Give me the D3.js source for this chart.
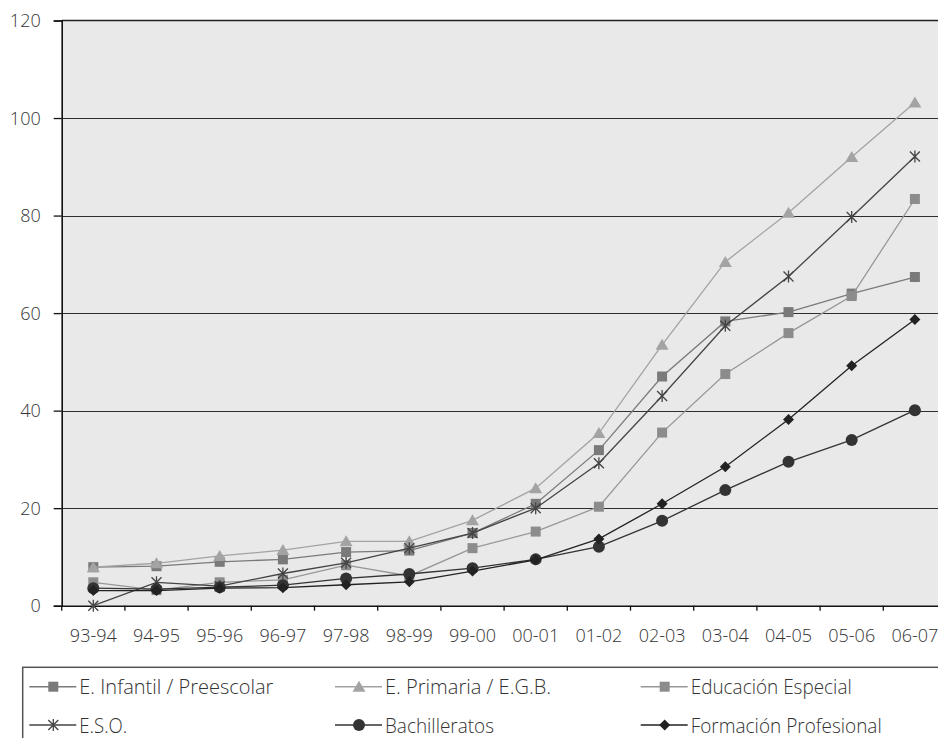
<!DOCTYPE html>
<html>
<head>
<meta charset="utf-8">
<script src="https://cdn.jsdelivr.net/npm/d3@7"></script>
<style>
  html, body { margin: 0; padding: 0; background: #ffffff; }
  svg { display: block; }
  text { font-family: "Open Sans", "Noto Sans", sans-serif; fill: #333; font-weight: 300; }
</style>
</head>
<body>
<svg id="chart" width="938" height="738"></svg>
<script>
const categories = ["93-94","94-95","95-96","96-97","97-98","98-99","99-00","00-01","01-02","02-03","03-04","04-05","05-06","06-07"];
const yTicks = [0, 20, 40, 60, 80, 100, 120];

const infantil = [7.9, 8.1, 9.0, 9.5, 11.0, 11.3, 14.9, 20.9, 31.9, 47.0, 58.3, 60.2, 64.0, 67.4];
const primaria = [7.9, 8.7, 10.2, 11.4, 13.2, 13.2, 17.5, 24.1, 35.4, 53.5, 70.5, 80.6, 92.0, 103.2];
const especial = [4.8, 3.2, 4.8, 5.3, 8.3, 6.1, 11.8, 15.2, 20.3, 35.5, 47.5, 55.9, 63.5, 83.4];
const eso      = [0, 4.8, 4.0, 6.6, 8.8, 11.8, 14.9, 20.0, 29.2, 43.0, 57.4, 67.5, 79.7, 92.1];
const bach     = [3.6, 3.4, 3.8, 4.2, 5.6, 6.5, 7.7, 9.5, 12.1, 17.4, 23.7, 29.5, 34.0, 40.1];
const fp       = [3.1, 3.1, 3.6, 3.7, 4.3, 4.9, 7.1, 9.4, 13.7, 20.9, 28.5, 38.2, 49.2, 58.7];

const seriesNames = ["E. Infantil / Preescolar", "E. Primaria / E.G.B.", "Educación Especial", "E.S.O.", "Bachilleratos", "Formación Profesional"];

const series = [
  {name: seriesNames[0], values: infantil, line: "#7a7a7a", fill: "#7a7a7a", shape: "square", tl: 194},
  {name: seriesNames[1], values: primaria, line: "#a3a3a3", fill: "#a3a3a3", shape: "triangle", tl: 166},
  {name: seriesNames[2], values: especial, line: "#979797", fill: "#8c8c8c", shape: "square", tl: 161},
  {name: seriesNames[3], values: eso, line: "#444444", fill: "#444444", shape: "star", tl: 48},
  {name: seriesNames[4], values: bach, line: "#333333", fill: "#333333", shape: "circle", tl: 109},
  {name: seriesNames[5], values: fp, line: "#222222", fill: "#222222", shape: "diamond", tl: 191}
];

const svg = d3.select("#chart");
const pLeft = 61.7, pTop = 20.5, pBottom = 605.7, pRight = 946.5;

const x = d3.scaleBand().domain(categories).range([pLeft, pRight]);
const y = d3.scaleLinear().domain([0, 120]).range([pBottom, pTop]);

svg.append("rect").attr("x", pLeft).attr("y", pTop).attr("width", pRight - pLeft).attr("height", pBottom - pTop)
  .attr("fill", "#e9e9e9");

svg.append("g").selectAll("line").data(yTicks.filter(t => t > 0 && t < 120)).join("line")
  .attr("x1", pLeft).attr("x2", pRight).attr("y1", d => Math.round(y(d)) + 0.5).attr("y2", d => Math.round(y(d)) + 0.5)
  .attr("stroke", "#2e2e2e").attr("stroke-width", 1).attr("shape-rendering", "crispEdges");
svg.append("line").attr("x1", pLeft).attr("x2", pRight).attr("y1", y(120)).attr("y2", y(120))
  .attr("stroke", "#222").attr("stroke-width", 1.5);

const yAxis = d3.axisLeft(y).tickValues(yTicks).tickSize(8).tickPadding(13).tickFormat(d3.format("d"));
const gy = svg.append("g").attr("transform", `translate(${pLeft},0)`).call(yAxis);
gy.select(".domain").attr("stroke", "#111").attr("stroke-width", 1.6);
gy.selectAll(".tick line").attr("stroke", "#111").attr("stroke-width", 1.3);
gy.selectAll(".tick text").attr("font-size", 18).attr("fill", "#333")
  .attr("font-family", "'Open Sans', sans-serif").attr("dy", "0.34em");

const xAxis = d3.axisBottom(x).tickSize(0).tickPadding(0);
const gx = svg.append("g").attr("transform", `translate(0,${pBottom})`).call(xAxis);
gx.select(".domain").attr("stroke", "#111").attr("stroke-width", 1.6);
gx.selectAll(".tick text").attr("font-size", 18).attr("fill", "#333")
  .attr("font-family", "'Open Sans', sans-serif").attr("dy", null).attr("y", 36);
const boundaries = categories.map(c => x(c)).concat([x(categories[categories.length - 1]) + x.bandwidth()]);
gx.append("g").selectAll("line").data(boundaries).join("line")
  .attr("x1", d => d).attr("x2", d => d).attr("y1", 0).attr("y2", 5)
  .attr("stroke", "#111").attr("stroke-width", 1.3);

function drawMarker(g, shape, color, s) {
  s = s || 1;
  if (shape === "square") {
    g.append("rect").attr("x", -5 * s).attr("y", -5 * s).attr("width", 10 * s).attr("height", 10 * s).attr("fill", color);
  } else if (shape === "triangle") {
    g.append("path").attr("d", `M0,${-6 * s}L${6.5 * s},${5 * s}L${-6.5 * s},${5 * s}Z`).attr("fill", color);
  } else if (shape === "circle") {
    g.append("circle").attr("r", 6 * s).attr("fill", color);
  } else if (shape === "diamond") {
    g.append("path").attr("d", `M0,${-5.5 * s}L${5.5 * s},0L0,${5.5 * s}L${-5.5 * s},0Z`).attr("fill", color);
  } else if (shape === "star") {
    const a = 5 * s;
    g.append("path").attr("d", `M${-a},${-a}L${a},${a}M${-a},${a}L${a},${-a}M0,${-a * 1.2}L0,${a * 1.2}`)
      .attr("stroke", color).attr("stroke-width", 1.3).attr("fill", "none");
  }
}

const lineGen = d3.line().x((d, i) => x(categories[i]) + x.bandwidth() / 2).y(d => y(d));

series.forEach(s => {
  const g = svg.append("g");
  g.append("path").datum(s.values).attr("d", lineGen).attr("fill", "none")
    .attr("stroke", s.line).attr("stroke-width", 1.3);
  s.values.forEach((v, i) => {
    const m = g.append("g").attr("transform", `translate(${x(categories[i]) + x.bandwidth() / 2},${y(v)})`);
    drawMarker(m, s.shape, s.fill, 1);
  });
});

const legendBox = {x: 22.7, y: 667.3};
svg.append("rect").attr("x", legendBox.x).attr("y", legendBox.y).attr("width", 1000).attr("height", 200)
  .attr("fill", "#fff").attr("stroke", "#555").attr("stroke-width", 1.5);

const colX = [29.3, 335, 640.7];
const rowY = [686.7, 725];
series.forEach((s, i) => {
  const cx = colX[i % 3], cy = rowY[Math.floor(i / 3)];
  const g = svg.append("g").attr("transform", `translate(${cx},${cy})`);
  g.append("line").attr("x1", 0).attr("x2", 47).attr("y1", 0).attr("y2", 0)
    .attr("stroke", s.line).attr("stroke-width", 1.4);
  const m = g.append("g").attr("transform", "translate(24,0)");
  drawMarker(m, s.shape, s.fill, 1);
  g.append("text").attr("x", 50).attr("y", 7.5).attr("font-size", 21).attr("fill", "#333")
    .attr("textLength", s.tl).attr("lengthAdjust", "spacingAndGlyphs").text(s.name);
});
</script>
</body>
</html>
